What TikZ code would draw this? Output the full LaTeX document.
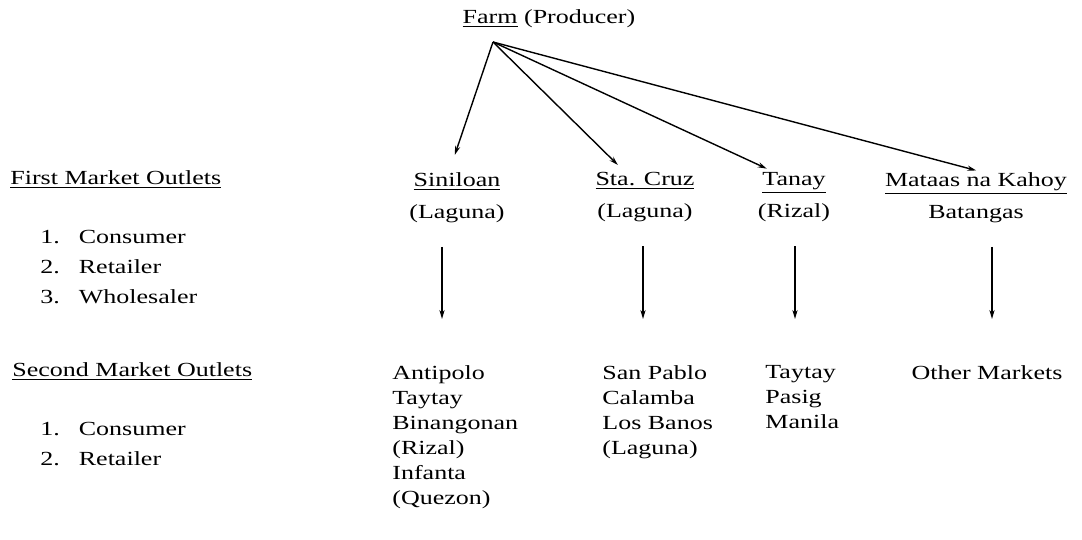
\documentclass[tikz,border=0pt]{standalone}
\usepackage{fontspec}
\setmainfont{Liberation Serif}[FakeStretch=1.3]
\usetikzlibrary{arrows.meta}

\begin{document}
\begin{tikzpicture}[x=0.5pt,y=-0.5pt,
  every node/.style={font=\fontsize{10}{12.5}\selectfont, inner sep=0pt},
  link/.style={-{Stealth[length=4.5pt,width=2.6pt]}, line width=0.7pt},
  head/.style={anchor=west},
  place/.style={align=center, anchor=north},
  towns/.style={align=left, anchor=north west}]

\useasboundingbox (0,0) rectangle (1082,540);

% PRODUCER
\node (farm) at (549,19) {\underline{Farm} (Producer)};
\coordinate (apex) at (493,42);

% FIRST OUTLETS
\node[place] (sini)  at (457,172) {\underline{Siniloan}\\[3.5pt](Laguna)};
\node[place] (cruz)  at (645,172) {\underline{Sta. Cruz}\\[3.5pt](Laguna)};
\node[place] (tanay) at (794,172) {\underline{Tanay}\\[3.5pt](Rizal)};
\node[place] (kahoy) at (976,172) {\underline{Mataas na Kahoy}\\[3.5pt]Batangas};

% SECOND OUTLETS
\node[towns] (anti)   at (392,365) {Antipolo\\Taytay\\Binangonan\\(Rizal)\\Infanta\\(Quezon)};
\node[towns] (pablo)  at (602,365) {San Pablo\\Calamba\\Los Banos\\(Laguna)};
\node[towns] (taytay) at (765,365) {Taytay\\Pasig\\Manila};
\node[place] (other)  at (987,365) {Other Markets};

% LEGEND
\node[head] (first) at (10,180) {\underline{First Market Outlets}};
\node[towns] (list1) at (40,222) {\renewcommand{\arraystretch}{1.2}%
  \begin{tabular}{@{}r@{\hspace{9.5pt}}l@{}}1. & Consumer\\ 2. & Retailer\\ 3. & Wholesaler\end{tabular}};
\node[head] (second) at (12,372) {\underline{Second Market Outlets}};
\node[towns] (list2) at (40,414) {\renewcommand{\arraystretch}{1.2}%
  \begin{tabular}{@{}r@{\hspace{9.5pt}}l@{}}1. & Consumer\\ 2. & Retailer\end{tabular}};

% FARM TO FIRST OUTLETS
\draw[link, shorten >=9pt] (apex) -- ([xshift=-4pt]sini.north);
\draw[link, shorten >=5pt] (apex) -- ([xshift=-10pt]cruz.north);
\draw[link, shorten >=4pt] (apex) -- ([xshift=-10pt]tanay.north);
\draw[link, shorten >=3pt] (apex) -- ([xshift=3pt]kahoy.north);

% FIRST TO SECOND OUTLETS
\draw[link, shorten <=12pt, shorten >=23pt] (442,0 |- sini.south)  -- (442,0 |- anti.north);
\draw[link, shorten <=12pt, shorten >=23pt] (643,0 |- cruz.south)  -- (643,0 |- pablo.north);
\draw[link, shorten <=12pt, shorten >=23pt] (795,0 |- tanay.south) -- (795,0 |- taytay.north);
\draw[link, shorten <=12pt, shorten >=23pt] (992,0 |- kahoy.south) -- (992,0 |- other.north);

\end{tikzpicture}
\end{document}
